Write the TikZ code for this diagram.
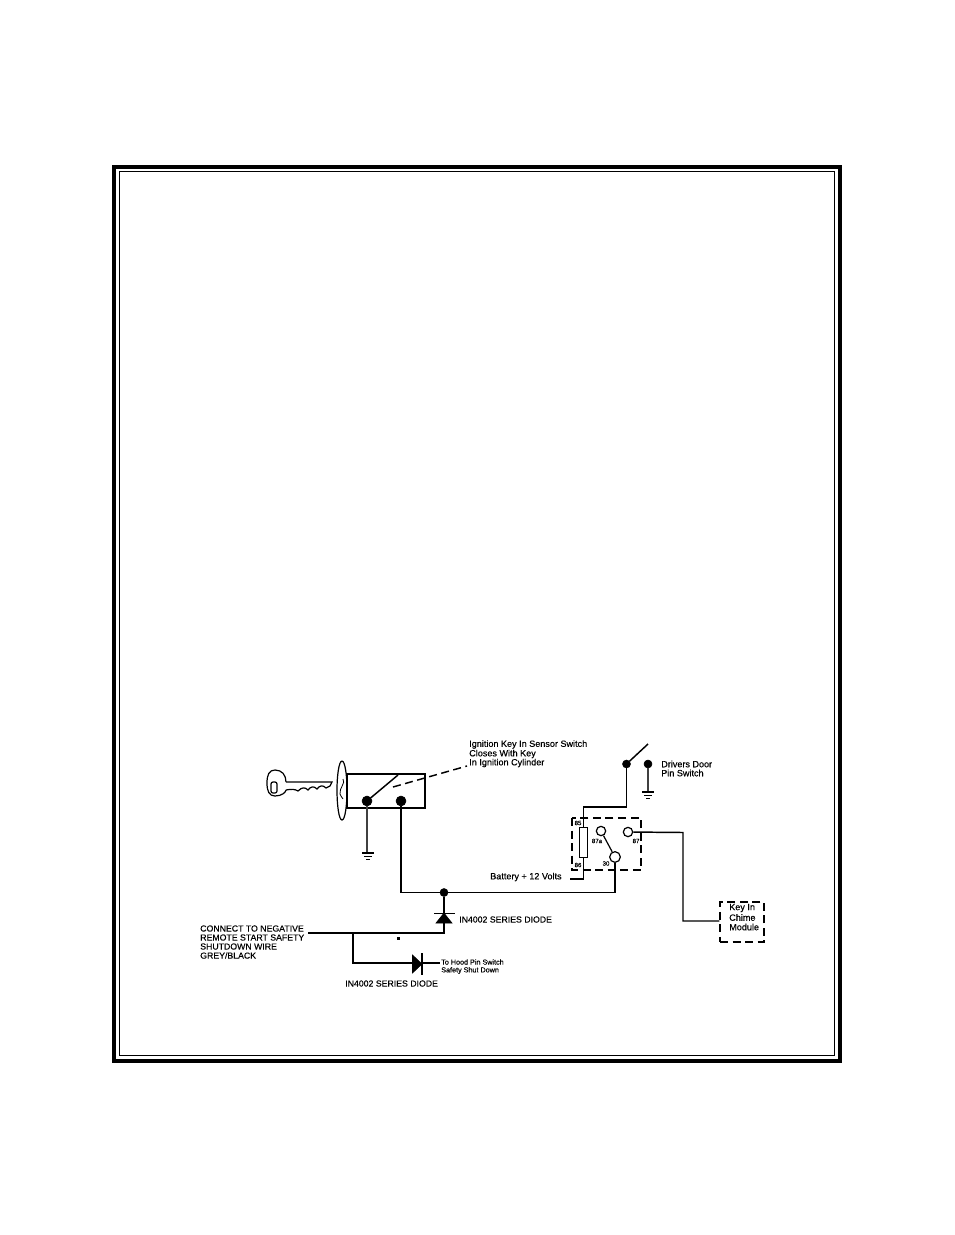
\documentclass[tikz,border=0pt]{standalone}
\usepackage{fontspec}
\setmainfont[FakeBold=0.25,AutoFakeBold=false]{Liberation Sans}
\newfontfamily\lblfont[RawFeature={embolden=0.3}]{Liberation Sans}
\tikzset{
  x=0.75pt,y=-0.75pt,
  wire/.style={line width=1.1pt,black},
  thinwire/.style={line width=0.9pt,black!75},
  heavy/.style={line width=2pt,black},
  dashline/.style={line width=1.1pt,dash pattern=on 6pt off 3.4pt},
  dot/.style={circle,fill=black,draw=black,inner sep=0pt,minimum size=7.5pt},
  bigdot/.style={circle,fill=black,draw=black,inner sep=0pt,minimum size=6pt},
  ring/.style={circle,fill=white,draw=black,line width=0.9pt,inner sep=0pt,minimum size=7pt},
  lbl/.style={anchor=west,inner sep=0pt,font=\lblfont\fontsize{6.8}{8}\selectfont},
  capslbl/.style={anchor=west,inner sep=0pt,font=\lblfont\fontsize{6.55}{8}\selectfont},
  sml/.style={anchor=west,inner sep=0pt,font=\lblfont\fontsize{5.4}{6}\selectfont},
  tiny/.style={anchor=center,inner sep=0pt,font=\lblfont\fontsize{4.6}{5}\selectfont},
  diodefill/.style={fill=black,draw=black,line width=0.4pt},
  chimebox/.style={draw,dashline,line width=1pt,minimum width=33pt,minimum height=30pt,inner sep=0pt},
}
\begin{document}
\begin{tikzpicture}
\useasboundingbox (0,0) rectangle (954,1235);
\fill[white] (0,0) rectangle (954,1235);
% frame
\draw[line width=3.3pt,miter limit=10] (114.2,167.2) rectangle (839.8,1060.8);
\draw[line width=0.8pt] (119.5,171.5) rectangle (834.5,1055.5);
% key
\draw[line width=0.9pt] (286,782) .. controls (286,775) and (282,770) .. (275,770) .. controls (269,770) and (267,775) .. (267,783) .. controls (267,791) and (269,796) .. (275,796) .. controls (282,796) and (286,792) .. (286,790);
\draw[line width=0.9pt,rounded corners=1.5pt] (271,782) rectangle (277,793);
\draw[line width=0.9pt] (286,782) -- (332,782) -- (330,786) -- (326,788) .. controls (323,785) and (320,785) .. (317,789) .. controls (314,786) and (311,786) .. (308,790) .. controls (305,787) and (302,787) .. (298,791) .. controls (295,789) and (291,789) .. (286,790);
\draw[line width=0.9pt] (342,761) .. controls (339,761) and (337,775) .. (337,790) .. controls (337,806) and (339,820) .. (342,820) .. controls (345,820) and (347,806) .. (347,790) .. controls (347,775) and (345,761) .. (342,761);
\draw[line width=0.6pt] (343,779) .. controls (346,783) and (339,788) .. (340,794) .. controls (340,797) and (343,797) .. (343,799);
% switch box
\draw[line width=0.95pt] (347,774) rectangle (425,808);
\node[dot] (c1) at (367,801) {};
\node[dot] (c2) at (401,801) {};
\coordinate (levA) at (398,775);
\draw[wire] (c1) -- (levA);
\coordinate (dashA) at (393,787);
\coordinate (dashB) at (467,766);
\draw[dashline] (dashA) -- (dashB);
% ground 1
\coordinate (g1) at (367,853);
\draw[thinwire] (c1) -- (g1);
\draw[wire] (362,853) -- (374,853);
\draw[line width=0.7pt] (364,856) -- (372,856);
\draw[line width=0.7pt] (366,859) -- (370,859);
% junction and main wires
\node[bigdot] (j) at (444,892.5) {};
\coordinate (w1) at (401,892.5);
\node[ring,minimum size=8pt] (c30) at (615,857) {};
\coordinate (w2) at (615,892.5);
\draw[wire] (c2) -- (w1) -- (j) -- (w2) -- (c30);
% relay
\draw[dashline,line width=0.95pt] (572,818) rectangle (641,870);
\node[draw,fill=white,line width=0.9pt,minimum width=5.5pt,minimum height=23pt,inner sep=0pt] (coil) at (583.5,842.5) {};
\node[ring] (c87a) at (601,831) {};
\node[ring] (c87) at (628,832) {};
\draw[line width=0.9pt] (c87a) -- (c30);
\coordinate (r1) at (583.5,807);
\coordinate (r2) at (626.5,807);
\node[bigdot] (dw) at (626.5,764) {};
\draw[wire] (coil.north) -- (r1) -- (r2) -- (dw);
\coordinate (lev2) at (648,744);
\draw[wire] (dw) -- (lev2);
\node[bigdot] (dw2) at (648,764) {};
\coordinate (g2) at (648,792);
\draw[thinwire] (dw2) -- (g2);
\draw[wire] (642,792) -- (654,792);
\draw[line width=0.7pt] (644,795) -- (652,795);
\draw[line width=0.7pt] (646,798) -- (650,798);
\coordinate (b1) at (570,879);
\coordinate (b2) at (583.5,879);
\draw[wire] (b1) -- (b2) -- (coil.south);
% chime
\node[chimebox] (chime) at (742,922) {};
\coordinate (m1) at (683,832.5);
\coordinate (m2) at (683,921);
\draw[wire] (c87) -- (m1) -- (m2) -- (chime.west |- m2);
% diodes
\coordinate (n1) at (444,933);
\coordinate (n0) at (308,933);
\coordinate (n2) at (353,933);
\coordinate (n3) at (353,963);
\coordinate (n4) at (440,963);
\draw[heavy] (j) -- (n1) -- (n0);
\draw[heavy] (n2) -- (n3) -- (413,963);
\draw[wire] (422,963) -- (n4);
\fill[diodefill] (444,913) -- (436,923) -- (452,923) -- cycle;
\draw[line width=1.3pt] (434,913.5) -- (455,913.5);
\fill[diodefill] (422,964) -- (412.5,955) -- (412.5,973) -- cycle;
\draw[line width=1.5pt] (422,953) -- (422,975);
\fill (396.5,936.5) rectangle (400,940);
% labels
\node[lbl] (t1) at (469,744.5) {Ignition Key In Sensor Switch};
\node[lbl] (t2) at (469,754) {Closes With Key};
\node[lbl] (t3) at (469,763) {In Ignition Cylinder};
\node[lbl] (t4) at (661,764) {Drivers Door};
\node[lbl] (t5) at (661,773) {Pin Switch};
\node[lbl] (t6) at (490,877) {Battery + 12 Volts};
\node[capslbl] (t7) at (459,919.5) {IN4002 SERIES DIODE};
\node[capslbl] (t8) at (345,983.5) {IN4002 SERIES DIODE};
\node[capslbl] (t9) at (200,928.5) {CONNECT TO NEGATIVE};
\node[capslbl] (t10) at (200,937.5) {REMOTE START SAFETY};
\node[capslbl] (t11) at (200,946.5) {SHUTDOWN WIRE};
\node[capslbl] (t12) at (200,955.5) {GREY/BLACK};
\node[sml] (t13) at (441,962) {To Hood Pin Switch};
\node[sml] (t14) at (441,970.5) {Safety Shut Down};
\node[lbl] (t15) at (729,908) {Key In};
\node[lbl] (t16) at (729,917.5) {Chime};
\node[lbl] (t17) at (729,927) {Module};
\node[tiny] (l85) at (578,823) {85};
\node[tiny] (l86) at (578,865) {86};
\node[tiny] (l87a) at (597,841) {87a};
\node[tiny] (l87) at (636,841) {87};
\node[tiny] (l30) at (606,863.5) {30};
\end{tikzpicture}
\end{document}
